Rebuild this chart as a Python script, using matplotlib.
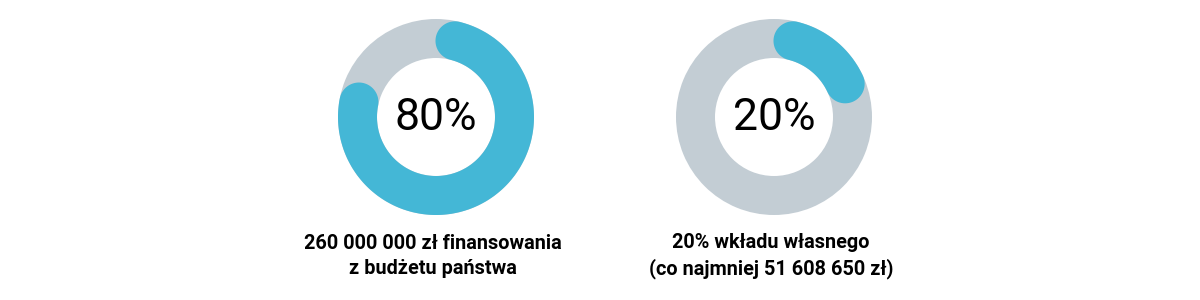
import numpy as np
import matplotlib.pyplot as plt
from matplotlib.patches import Wedge, Polygon

plt.rcParams['font.family'] = ['Roboto', 'DejaVu Sans']

# Data
shares = [0.80, 0.20]
center_labels = ['80%', '20%']
captions = ['260 000 000 zł finansowania\nz budżetu państwa',
            '20% wkładu własnego\n(co najmniej 51 608 650 zł)']

# Styling / layout (pixel space)
centers_x = [436, 774]
center_y = 117
r_out, r_in = 98, 59
grey = '#C3CDD4'
blue = '#44B7D6'

fig = plt.figure(figsize=(12, 3), dpi=100)
ax = fig.add_axes([0, 0, 1, 1])
ax.set_xlim(0, 1200)
ax.set_ylim(300, 0)
ax.set_aspect('equal')
ax.axis('off')


def rounded_arc(cx, cy, r1, r2, a0, a1, n=200):
    # angles in degrees clockwise from 12 o'clock; y axis points down
    rm, hw = (r1 + r2) / 2, (r2 - r1) / 2
    t = np.radians(np.linspace(a0, a1, n))
    outer = np.c_[cx + r2 * np.sin(t), cy - r2 * np.cos(t)]
    inner = np.c_[cx + r1 * np.sin(t[::-1]), cy - r1 * np.cos(t[::-1])]
    ex, ey = cx + rm * np.sin(t[-1]), cy - rm * np.cos(t[-1])
    sx, sy = cx + rm * np.sin(t[0]), cy - rm * np.cos(t[0])
    # round caps at both ends
    u = np.linspace(0, np.pi, 40)
    ce = np.c_[ex + hw * np.sin(t[-1] + u), ey - hw * np.cos(t[-1] + u)]
    cs = np.c_[sx + hw * np.sin(t[0] + np.pi + u), sy - hw * np.cos(t[0] + np.pi + u)]
    return np.vstack([outer, ce, inner, cs])


for cx, p, lab, cap in zip(centers_x, shares, center_labels, captions):
    ax.add_patch(Wedge((cx, center_y), r_out, 0, 360, width=r_out - r_in,
                       facecolor=grey, edgecolor='none'))
    start = 14
    end = 360 * p - 7
    ax.add_patch(Polygon(rounded_arc(cx, center_y, r_in, r_out, start, end),
                         closed=True, facecolor=blue, edgecolor='none'))
    ax.text(cx, center_y + 1, lab, ha='center', va='center', fontsize=32,
            fontweight='normal', color='black')
    ax.text(cx - 3, 256, cap, ha='center', va='center', fontsize=14.3,
            fontweight='bold', color='black', linespacing=1.38)

fig.savefig('out.png', dpi=100)
